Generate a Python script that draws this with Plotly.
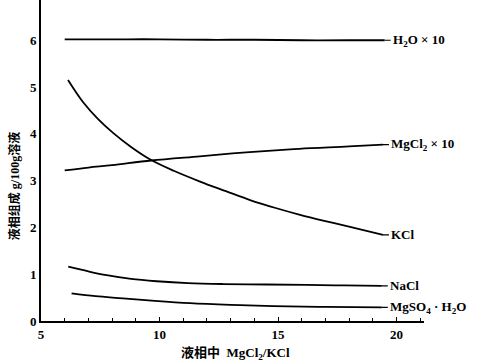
import plotly.graph_objects as go

h2o_x = [6.0, 8, 10, 12, 14, 16, 18, 19.5]
h2o_y = [6.02, 6.02, 6.02, 6.01, 6.01, 6.0, 6.0, 6.0]

mgcl2_x = [6.0, 7, 8, 9.65, 11.7, 13.8, 15.9, 18.0, 19.43]
mgcl2_y = [3.22, 3.28, 3.33, 3.43, 3.52, 3.61, 3.68, 3.73, 3.77]

kcl_x = [6.14, 6.77, 7.4, 8.04, 8.8, 9.65, 10.6, 11.71, 12.8, 13.82, 14.9, 15.93, 17.0, 18.04, 19.43]
kcl_y = [5.15, 4.68, 4.32, 4.02, 3.72, 3.44, 3.21, 2.98, 2.775, 2.585, 2.415, 2.27, 2.135, 2.01, 1.84]

nacl_x = [6.15, 7.0, 7.77, 8.8, 9.88, 11.2, 12.68, 14.5, 16.2, 17.8, 19.38]
nacl_y = [1.16, 1.06, 0.98, 0.90, 0.85, 0.81, 0.79, 0.78, 0.77, 0.76, 0.75]

mgso4_x = [6.29, 7.3, 8.46, 9.8, 11.29, 13.0, 14.8, 17.0, 19.38]
mgso4_y = [0.59, 0.53, 0.485, 0.43, 0.38, 0.345, 0.32, 0.30, 0.29]

series = [
    (h2o_x, h2o_y, "H<sub>2</sub>O × 10"),
    (mgcl2_x, mgcl2_y, "MgCl<sub>2</sub> × 10"),
    (kcl_x, kcl_y, "KCl"),
    (nacl_x, nacl_y, "NaCl"),
    (mgso4_x, mgso4_y, "MgSO<sub>4</sub> · H<sub>2</sub>O"),
]

font_fam = "Liberation Serif, Noto Sans CJK SC, serif"

fig = go.Figure()
for xs, ys, name in series:
    fig.add_trace(go.Scatter(x=xs, y=ys, mode="lines",
                             line=dict(color="black", width=1.8, shape="spline", smoothing=1.0),
                             showlegend=False, hoverinfo="skip"))
    fig.add_annotation(x=xs[-1], y=ys[-1], text=name, showarrow=True, arrowhead=0, arrowwidth=1.2,
                       arrowcolor="black", ax=6, ay=0, standoff=0, xanchor="left", yanchor="middle",
                       font=dict(family=font_fam, size=13, color="black", weight="bold"))

fig.add_annotation(xref="paper", yref="paper", x=0.507, y=0, yshift=-22, yanchor="top", showarrow=False,
                   text="液相中  MgCl<sub>2</sub>/KCl",
                   font=dict(family=font_fam, size=13, color="black", weight="bold"))
fig.add_annotation(xref="paper", yref="paper", x=0, xshift=-27, y=0.42, textangle=-90, xanchor="center",
                   showarrow=False, text="液相组成 g/100g溶液",
                   font=dict(family=font_fam, size=12, color="black", weight="bold"))

fig.update_layout(
    width=477, height=362,
    margin=dict(l=41, r=53, t=0, b=41),
    paper_bgcolor="white", plot_bgcolor="white",
    font=dict(family=font_fam, color="black", size=12),
    xaxis=dict(range=[5, 21.16], showgrid=False, zeroline=False, showline=True, linecolor="black", linewidth=2,
               automargin=False,
               tickmode="array", tickvals=[5, 10, 15, 20], ticktext=["5", "10", "15", "20"],
               ticks="inside", ticklen=4, tickcolor="black", tickfont=dict(size=13, weight="bold"),
               minor=dict(dtick=1, ticks="inside", ticklen=3, tickcolor="black")),
    yaxis=dict(range=[0, 6.86], showgrid=False, zeroline=False, showline=True, linecolor="black", linewidth=2,
               automargin=False, tickfont=dict(size=13, weight="bold"),
               tickmode="array", tickvals=[0, 1, 2, 3, 4, 5, 6], ticks=""),
)

fig.write_html("out.html", config={"displayModeBar": False},
               post_script="document.body.style.margin='0';document.body.style.padding='0';")
